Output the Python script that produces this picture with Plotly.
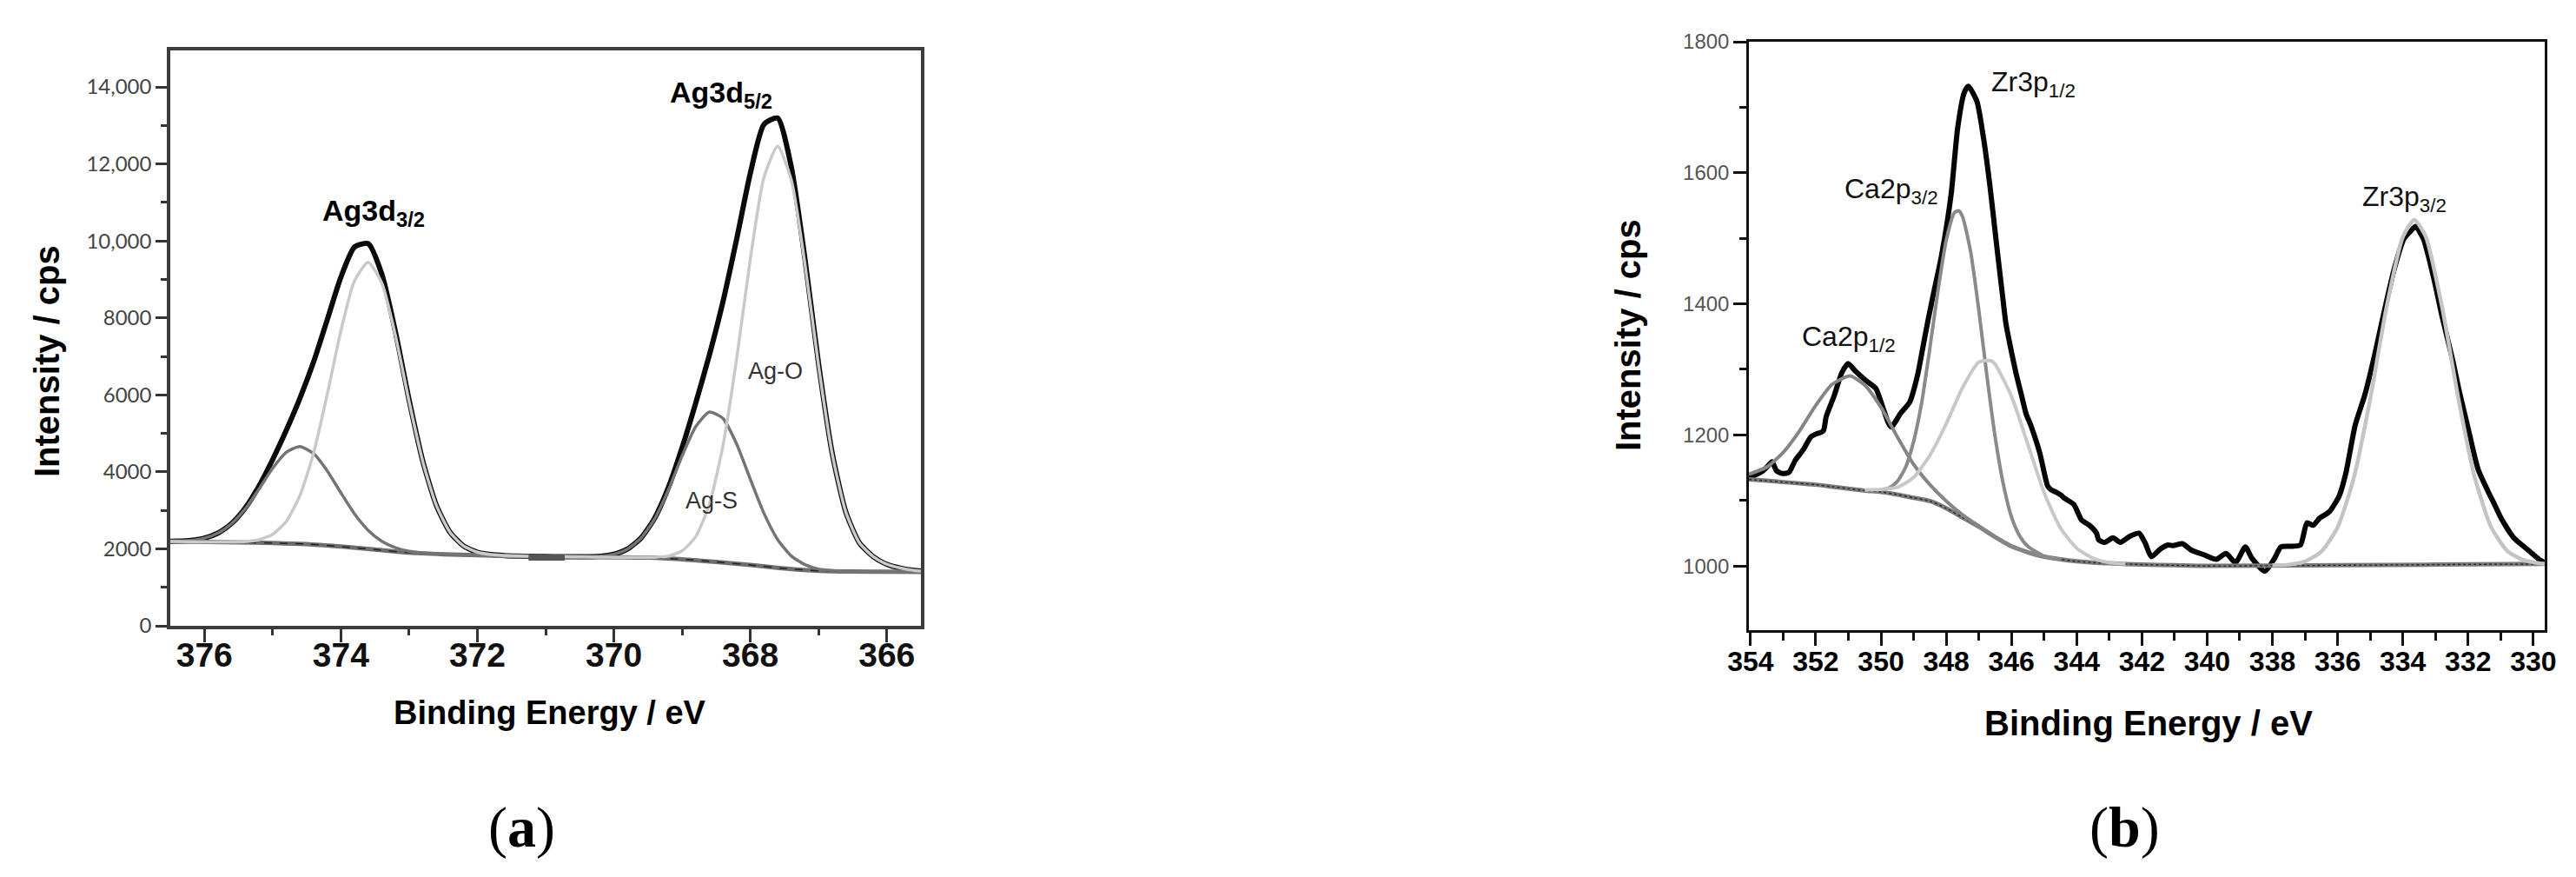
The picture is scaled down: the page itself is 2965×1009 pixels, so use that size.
import plotly.graph_objects as go

# ---------------- Panel (a): Ag3d ----------------
E_a = [376.5, 376.4, 376.2, 376.0, 375.8, 375.6, 375.4, 375.2, 375.0, 374.8, 374.6, 374.4, 374.2, 374.0,
       373.8, 373.6, 373.4, 373.2, 373.0, 372.8, 372.6, 372.4, 372.2, 372.0, 371.8, 371.6, 371.4, 371.2,
       371.0, 370.8, 370.6, 370.4, 370.2, 370.0, 369.8, 369.6, 369.4, 369.2, 369.0, 368.8, 368.6, 368.4,
       368.2, 368.0, 367.8, 367.6, 367.4, 367.2, 367.0, 366.8, 366.6, 366.4, 366.2, 366.0, 365.8, 365.6, 365.5]

env_a = [2196, 2200, 2221, 2279, 2411, 2662, 3067, 3632, 4320, 5082, 5916, 6858, 7952, 9060,
         9844, 9930, 9136, 7635, 5862, 4281, 3127, 2429, 2073, 1913, 1850, 1825, 1812, 1806,
         1800, 1796, 1794, 1795, 1809, 1860, 1994, 2284, 2804, 3597, 4629, 5791, 7038, 8429,
         10051, 11760, 13030, 13193, 11924, 9539, 6806, 4480, 2953, 2150, 1800, 1600, 1500, 1440, 1425]

agO_a = [2190, 2188, 2184, 2180, 2177, 2178, 2189, 2236, 2378, 2714, 3386, 4490, 6010, 7664,
         8966, 9446, 8902, 7536, 5825, 4269, 3124, 2429, 2073, 1913, 1850, 1825, 1812, 1806,
         1800, 1796, 1792, 1788, 1784, 1780, 1777, 1776, 1779, 1811, 1947, 2317, 3156, 4688,
         6942, 9531, 11652, 12458, 11586, 9405, 6760, 4466, 2950, 2150, 1800, 1600, 1500, 1440, 1425]

agS_a = [2196, 2200, 2221, 2279, 2410, 2656, 3044, 3554, 4092, 4508, 4660, 4473, 4027, 3456,
         2906, 2480, 2198, 2031, 1937, 1896, 1871, 1855, 1845, 1835, 1827, 1819, 1812, 1806,
         1800, 1796, 1794, 1795, 1809, 1860, 1993, 2280, 2787, 3532, 4412, 5176, 5556, 5385,
         4721, 3809, 2922, 2243, 1816, 1588, 1476, 1436, 1417, 1409, 1407, 1405, 1403, 1401, 1400]

bgE_a = [376.5, 376.0, 375.5, 375.0, 374.5, 374.0, 373.5, 373.0, 372.5, 372.0, 371.5, 371.0,
         370.5, 370.0, 369.5, 369.0, 368.5, 368.0, 367.5, 367.0, 366.5, 366.0, 365.5]
bg_a = [2190, 2180, 2170, 2150, 2125, 2060, 1980, 1900, 1860, 1835, 1815, 1800,
        1790, 1780, 1770, 1730, 1660, 1580, 1490, 1430, 1410, 1405, 1400]

barE_a = [371.25, 370.72]
bar_a = [1770, 1770]

ytick_a_vals = [0, 2000, 4000, 6000, 8000, 10000, 12000, 14000]
ytick_a_text = ["0", "2000", "4000", "6000", "8000", "10,000", "12,000", "14,000"]
xtick_a_vals = [376, 374, 372, 370, 368, 366]

# ---------------- Panel (b): Ca2p / Zr3p ----------------
E_b = [354.05, 353.8, 353.6, 353.48, 353.34, 353.2, 353.01, 352.82, 352.63, 352.39, 352.15, 352.01,
       351.77, 351.68, 351.44, 351.2, 351.01, 350.78, 350.44, 350.16, 349.97, 349.78, 349.68, 349.4,
       349.12, 348.88, 348.74, 348.55, 348.35, 348.15, 347.85, 347.65, 347.45, 347.32, 347.06, 346.86,
       346.66, 346.46, 346.27, 346.17, 345.98, 345.85, 345.7, 345.55, 345.41, 345.13, 344.89, 344.78,
       344.65, 344.48, 344.37, 344.09, 343.85, 343.61, 343.39, 343.33, 343.14, 342.89, 342.66, 342.38,
       342.09, 341.9, 341.71, 341.43, 341.2, 341.05, 340.76, 340.48, 340.1, 339.72, 339.42, 339.13,
       338.83, 338.63, 338.23, 337.93, 337.74, 337.44, 337.14, 336.94, 336.75, 336.55, 336.25, 335.95,
       335.75, 335.46, 335.16, 334.86, 334.56, 334.27, 333.97, 333.78, 333.61, 333.37, 333.08, 332.78,
       332.48, 332.28, 331.99, 331.69, 331.39, 331.2, 330.99, 330.6, 330.2, 329.8, 329.65]
I_b = [1135, 1140, 1146, 1152, 1159, 1145, 1141, 1143, 1161, 1177, 1197, 1201,
       1206, 1228, 1259, 1295, 1309, 1297, 1282, 1271, 1246, 1219, 1212, 1233,
       1250, 1291, 1327, 1377, 1425, 1472, 1567, 1668, 1722, 1732, 1709, 1654,
       1580, 1492, 1411, 1370, 1322, 1292, 1262, 1232, 1215, 1172, 1122, 1116,
       1113, 1108, 1103, 1094, 1070, 1062, 1050, 1040, 1036, 1043, 1036, 1045,
       1050, 1035, 1014, 1026, 1032, 1031, 1034, 1024, 1017, 1010, 1019, 1005,
       1029, 1012, 992, 1012, 1029, 1030, 1032, 1066, 1062, 1073, 1083, 1107,
       1141, 1215, 1262, 1323, 1391, 1452, 1499, 1510, 1518, 1499, 1445, 1377,
       1316, 1269, 1208, 1147, 1114, 1095, 1073, 1043, 1026, 1009, 1005]

bgE_b = [354.05, 353.5, 353.0, 352.5, 352.0, 351.5, 351.0, 350.5, 350.0, 349.5, 349.0, 348.5, 348.0,
         347.5, 347.0, 346.5, 346.0, 345.5, 345.0, 344.5, 344.0, 343.5, 343.0, 342.0, 341.0, 340.0,
         336.0, 333.0, 329.65]
bg_b = [1132, 1130, 1128, 1126, 1124, 1121, 1118, 1115, 1113, 1109, 1104, 1099, 1088,
        1074, 1060, 1044, 1030, 1021, 1014, 1010, 1007, 1005, 1004, 1002, 1001, 1000,
        1001, 1002, 1003]

ca12E = [354.05, 353.5, 353.0, 352.5, 352.0, 351.5, 350.95, 350.5, 350.0, 349.5, 349.0, 348.5, 348.0,
         347.5, 347.0, 346.5, 346.0, 345.5, 345.0]
ca12 = [1140, 1151, 1173, 1206, 1245, 1277, 1290, 1276, 1242, 1197, 1155, 1124, 1099,
        1078, 1061, 1044, 1030, 1021, 1014]

ca32E = [350.0, 349.75, 349.5, 349.25, 349.0, 348.75, 348.5, 348.25, 348.0, 347.75, 347.62, 347.5,
         347.25, 347.0, 346.75, 346.5, 346.25, 346.0, 345.75, 345.5, 345.0, 344.5]
ca32 = [1116, 1119, 1129, 1150, 1190, 1250, 1333, 1421, 1497, 1539, 1542, 1533,
        1479, 1390, 1289, 1197, 1125, 1075, 1046, 1030, 1015, 1010]

zr12E = [350.5, 350.0, 349.5, 349.0, 348.5, 348.0, 347.5, 347.0, 346.62, 346.5, 346.0, 345.5, 345.0,
         344.5, 344.0, 343.5, 343.0, 342.5]
zr12 = [1116, 1117, 1120, 1135, 1169, 1217, 1272, 1311, 1313, 1308, 1259, 1186, 1112,
        1058, 1027, 1012, 1005, 1003]

zr32E = [338.0, 337.5, 337.0, 336.5, 336.0, 335.5, 335.0, 334.5, 334.0, 333.65, 333.3, 332.8, 332.3,
         331.8, 331.3, 330.8, 330.3, 329.8, 329.65]
zr32 = [1001, 1002, 1007, 1022, 1059, 1135, 1255, 1395, 1502, 1528, 1503, 1396, 1256,
        1136, 1060, 1023, 1009, 1004, 1003]

ytick_b_vals = [1000, 1200, 1400, 1600, 1800]
xtick_b_vals = [354, 352, 350, 348, 346, 344, 342, 340, 338, 336, 334, 332, 330]

# ---------------- Figure ----------------
W, H = 2965, 1009
SANS = "Liberation Sans, Arial, sans-serif"

fig = go.Figure()

def line(x, y, color, width, xa, ya, dash="solid"):
    fig.add_trace(go.Scatter(x=x, y=y, mode="lines", xaxis=xa, yaxis=ya, showlegend=False,
                             hoverinfo="skip",
                             line=dict(color=color, width=width, shape="spline", smoothing=0.6, dash=dash)))

# panel a
line(E_a, env_a, "#0a0a0a", 6, "x", "y")
line(bgE_a, bg_a, "#6e6e6e", 5, "x", "y")
line(bgE_a, bg_a, "#202020", 1.5, "x", "y", dash="dash")
line(E_a, agS_a, "#747474", 3.5, "x", "y")
line(E_a, agO_a, "#c9c9c9", 3.5, "x", "y")
line(barE_a, bar_a, "#555555", 7, "x", "y")

# panel b
line(E_b, I_b, "#050505", 6, "x2", "y2")
line(bgE_b, bg_b, "#7a7a7a", 5, "x2", "y2")
line(bgE_b, bg_b, "#202020", 1.3, "x2", "y2", dash="dot")
line(ca12E, ca12, "#858585", 4, "x2", "y2")
line(ca32E, ca32, "#8a8a8a", 4, "x2", "y2")
line(zr12E, zr12, "#c8c8c8", 4, "x2", "y2")
line(zr32E, zr32, "#c4c4c4", 4.5, "x2", "y2")

# x tick labels: text traces on thin helper strips just below each x axis
fig.add_trace(go.Scatter(x=xtick_a_vals, y=[0.5] * len(xtick_a_vals), xaxis="x", yaxis="y3",
                         mode="text", text=[str(v) for v in xtick_a_vals], textposition="middle center",
                         cliponaxis=False, showlegend=False, hoverinfo="skip",
                         textfont=dict(family=SANS, size=39, color="#111111", weight="bold")))
fig.add_trace(go.Scatter(x=xtick_b_vals, y=[0.5] * len(xtick_b_vals), xaxis="x2", yaxis="y4",
                         mode="text", text=[str(v) for v in xtick_b_vals], textposition="middle center",
                         cliponaxis=False, showlegend=False, hoverinfo="skip",
                         textfont=dict(family=SANS, size=32, color="#000000", weight="bold")))

xa_dom = [188 / W, 1052 / W]
xb_dom = [2005 / W, 2921 / W]
ya_dom = [1 - 712 / H, 1 - 50 / H]
yb_dom = [1 - 717 / H, 1 - 40 / H]
ya_lab = [1 - 769 / H, 1 - 729 / H]
yb_lab = [1 - 776 / H, 1 - 736 / H]

fig.update_layout(
    width=W, height=H, margin=dict(l=0, r=0, t=0, b=0, autoexpand=False),
    paper_bgcolor="white", plot_bgcolor="white",
    xaxis=dict(domain=xa_dom, anchor="y", range=[376.5, 365.5], showgrid=False, zeroline=False,
               automargin=False, showticklabels=False,
               tickmode="array", tickvals=xtick_a_vals, ticks="outside", ticklen=15, tickwidth=3,
               tickcolor="#333333",
               showline=True, linecolor="#3c3c3c", linewidth=3.5, mirror=True,
               minor=dict(dtick=1, ticks="outside", ticklen=7, tickwidth=3, tickcolor="#333333")),
    yaxis=dict(domain=ya_dom, anchor="x", range=[0, 14950], showgrid=False, zeroline=False,
               automargin=False,
               tickmode="array", tickvals=ytick_a_vals, ticktext=ytick_a_text,
               ticks="outside", ticklen=13, tickwidth=3, tickcolor="#333333",
               tickfont=dict(family="Lato, Open Sans, sans-serif", size=24, color="#444444"),
               showline=True, linecolor="#3c3c3c", linewidth=3.5, mirror=True,
               minor=dict(dtick=1000, ticks="outside", ticklen=7, tickwidth=3, tickcolor="#333333")),
    xaxis2=dict(domain=xb_dom, anchor="y2", range=[354.05, 329.65], showgrid=False, zeroline=False,
                automargin=False, showticklabels=False,
                tickmode="array", tickvals=xtick_b_vals, ticks="outside", ticklen=15, tickwidth=2.5,
                tickcolor="#111111",
                showline=True, linecolor="#111111", linewidth=2.5, mirror=True,
                minor=dict(dtick=1, ticks="outside", ticklen=9, tickwidth=2.5, tickcolor="#111111")),
    yaxis2=dict(domain=yb_dom, anchor="x2", range=[902, 1800], showgrid=False, zeroline=False,
                automargin=False,
                tickmode="array", tickvals=ytick_b_vals, ticks="outside", ticklen=15, tickwidth=2.5,
                tickcolor="#111111",
                tickfont=dict(family=SANS, size=24, color="#555555"),
                showline=True, linecolor="#111111", linewidth=2.5, mirror=True,
                minor=dict(dtick=100, ticks="outside", ticklen=8, tickwidth=2.5, tickcolor="#111111")),
    yaxis3=dict(domain=ya_lab, anchor="x", range=[0, 1], visible=False, fixedrange=True),
    yaxis4=dict(domain=yb_lab, anchor="x2", range=[0, 1], visible=False, fixedrange=True),
)

ann = []
def txt(x, y, s, size, xref="paper", yref="paper", bold=False, xanchor="center", yanchor="middle",
        angle=0, family=SANS, color="#000000"):
    ann.append(dict(x=x, y=y, xref=xref, yref=yref, text=s, showarrow=False, xanchor=xanchor,
                    yanchor=yanchor, textangle=angle,
                    font=dict(family=family, size=size, color=color, weight="bold" if bold else "normal")))

# axis titles
txt(46 / W, 1 - 408 / H, "Intensity / cps", 40, bold=True, angle=-90)
txt(1866 / W, 1 - 378 / H, "Intensity / cps", 40, bold=True, angle=-90)
txt(625 / W, 1 - 812 / H, "Binding Energy / eV", 38, bold=True)
txt(2465 / W, 1 - 824 / H, "Binding Energy / eV", 40, bold=True)
# panel labels
txt(592 / W, 1 - 944 / H, "(<b>a</b>)", 66, family="Liberation Serif, Times New Roman, serif")
txt(2437 / W, 1 - 944 / H, "(<b>b</b>)", 66, family="Liberation Serif, Times New Roman, serif")

# peak labels (a)
txt(374.30, 10748, "Ag3d<sub>3/2</sub>", 34, "x", "y", bold=True, xanchor="left")
txt(369.21, 13818, "Ag3d<sub>5/2</sub>", 34, "x", "y", bold=True, xanchor="left")
txt(367.63, 6615, "Ag-O", 27, "x", "y", color="#333333")
txt(368.57, 3251, "Ag-S", 27, "x", "y", color="#333333")
# peak labels (b)
txt(346.67, 1735, "Zr3p<sub>1/2</sub>", 32, "x2", "y2", xanchor="left", color="#111111")
txt(351.18, 1572, "Ca2p<sub>3/2</sub>", 32, "x2", "y2", xanchor="left", color="#111111")
txt(352.49, 1347, "Ca2p<sub>1/2</sub>", 32, "x2", "y2", xanchor="left", color="#111111")
txt(335.29, 1560, "Zr3p<sub>3/2</sub>", 32, "x2", "y2", xanchor="left", color="#111111")

fig.update_layout(annotations=ann)
fig.write_html("out.html")
